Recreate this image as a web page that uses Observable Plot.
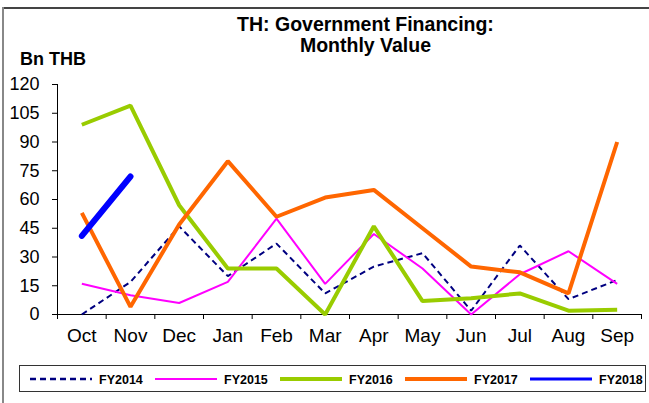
<!DOCTYPE html>
<html><head><meta charset="utf-8">
<script src="https://cdn.jsdelivr.net/npm/d3@7"></script>
<script src="https://cdn.jsdelivr.net/npm/@observablehq/plot@0.6"></script>
<style>
body{margin:0;background:#fff;font-family:Arial,"Liberation Sans",sans-serif;}
#wrap{position:relative;width:649px;height:403px;overflow:hidden;background:#fff;}
#topline{position:absolute;left:2px;top:7px;width:647px;height:2px;background:#444;}
#leftline{position:absolute;left:2px;top:7px;width:2px;height:396px;background:#888;}
#title{position:absolute;left:165px;width:401px;top:14px;text-align:center;font-weight:bold;font-size:19.5px;line-height:21px;color:#000;}
#ylab{position:absolute;left:20px;top:50px;font-weight:bold;font-size:18px;line-height:18px;color:#000;}
#chart{position:absolute;left:0;top:0;}
#legend{position:absolute;left:19px;top:365px;}
</style></head><body>
<div id="wrap">
 <div id="topline"></div><div id="leftline"></div>
 <div id="chart"></div>
 <div id="title">TH: Government Financing:<br>Monthly Value</div>
 <div id="ylab">Bn THB</div>
 <div id="legend"></div>
</div>
<script>
const months = ["Oct","Nov","Dec","Jan","Feb","Mar","Apr","May","Jun","Jul","Aug","Sep"];
const yTicks = [0,15,30,45,60,75,90,105,120];
const seriesNames = ["FY2014","FY2015","FY2016","FY2017","FY2018"];
const fy2014 = [0,17,46,20,37,11,25,32,2,36,8,18];
const fy2015 = [16,10,6,17,50,16,42,24,0,21,33,16];
const fy2016 = [99,109,57,24,24,0,46,7,8.5,11,2,2.5];
const fy2017 = [53,4,47,80,51,61,65,45,25,22,11,90];
const fy2018 = [41,72];
const colors = ["#000080","#ff00ff","#99cc00","#ff6600","#0000ff"];
const widths = [2,2,4,4,6];
const dashes = ["6,4",null,null,null,null];

const allSeries = [fy2014,fy2015,fy2016,fy2017,fy2018];
const data = allSeries.map((vals,s)=>vals.map((v,i)=>({series:seriesNames[s], i, value:v})));

const lineMarks = data.map((d,s)=>Plot.line(d,{x:"i",y:"value",stroke:colors[s],strokeWidth:widths[s],
  strokeDasharray:dashes[s]||undefined,strokeLinejoin:"miter",strokeLinecap: s===4?"round":"butt"}));

const chart = Plot.plot({
  width:649, height:403,
  marginLeft:57, marginRight:8, marginTop:84, marginBottom:89,
  style:{fontSize:"18px",fontFamily:"Arial, 'Liberation Sans', sans-serif",color:"#000",background:"transparent"},
  x:{type:"linear",domain:[-0.5,11.5],ticks:d3.range(-0.5,12,1),tickSize:5,tickFormat:()=>"",label:null},
  y:{domain:[0,120],ticks:yTicks,tickSize:5,tickPadding:13,label:null},
  marks:[
    Plot.ruleX([-0.5],{stroke:"#000",strokeWidth:1}),
    Plot.ruleY([0],{stroke:"#000",strokeWidth:1}),
    ...lineMarks,
    Plot.text(months,{x:(d,i)=>i,y:()=>0,text:d=>d,dy:21,fontSize:19,fill:"#000"})
  ]
});
document.getElementById("chart").appendChild(chart);

// legend
const lg = d3.select("#legend").append("svg").attr("width",630).attr("height",28);
lg.append("rect").attr("x",0.5).attr("y",0.5).attr("width",626).attr("height",26).attr("fill","#fff").attr("stroke","#333");
const lw = [2.5,2,4,4,3];
seriesNames.forEach((n,s)=>{
  const x0 = 11 + s*125;
  lg.append("line").attr("x1",x0).attr("x2",x0+62).attr("y1",14).attr("y2",14)
    .attr("stroke",colors[s]).attr("stroke-width",lw[s]).attr("stroke-dasharray",dashes[s]||null);
  lg.append("text").attr("x",x0+69).attr("y",18.5).text(n)
    .attr("font-family","Arial, 'Liberation Sans', sans-serif").attr("font-weight","bold").attr("font-size",12.5);
});
</script>
</body></html>
